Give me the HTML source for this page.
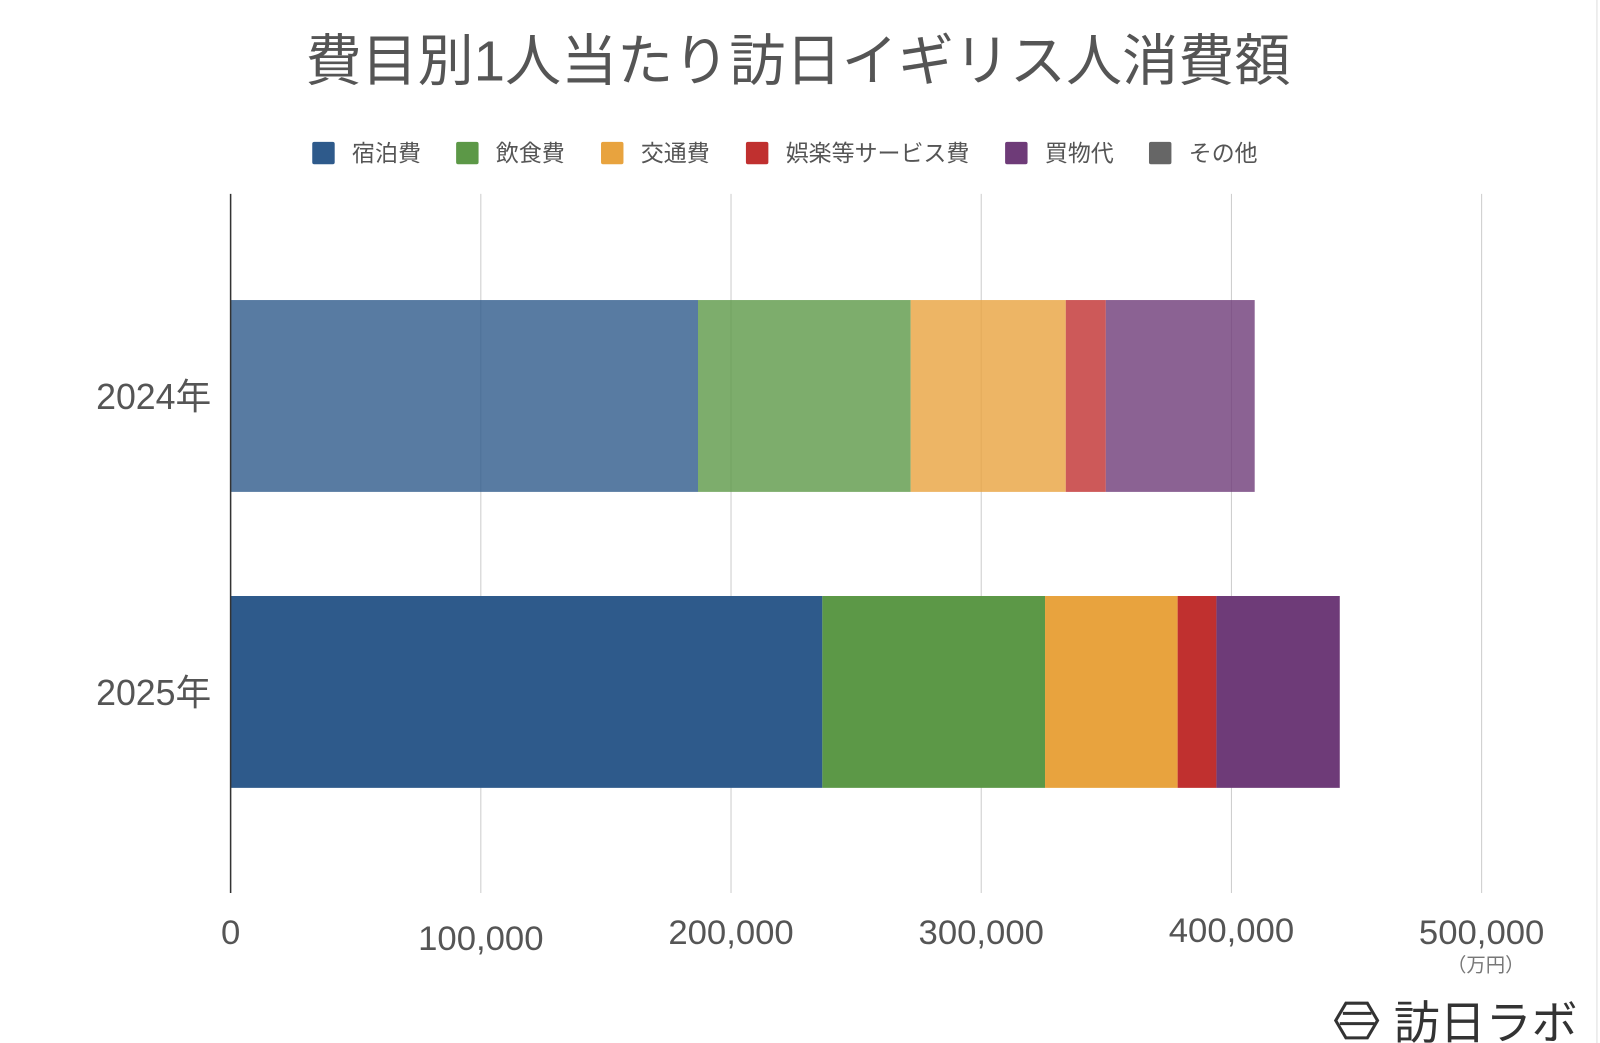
<!DOCTYPE html>
<html><head><meta charset="utf-8"><style>
body{margin:0;background:#fff;width:1600px;height:1043px;overflow:hidden;font-family:"Liberation Sans","Noto Sans CJK JP",sans-serif}
</style></head><body>
<svg width="1600" height="1043" viewBox="0 0 1568 1022" preserveAspectRatio="none" id="svg" style="position:absolute;left:0;top:0" font-family="Liberation Sans, Noto Sans CJK JP, sans-serif">
<text x="782" y="79" text-anchor="middle" font-size="55" fill="#555">費目別1人当たり訪日イギリス人消費額</text>
<g id="legend"></g>
<g id="grid"></g>
<g id="bars"></g>
<line x1="226" y1="190" x2="226" y2="875" stroke="#333" stroke-width="1.5"/>
<g id="ylabels"></g>
<g id="xlabels"></g>
<text x="1456" y="952" text-anchor="middle" font-size="19" fill="#777">（万円）</text>
<line x1="1565" y1="0" x2="1565" y2="1022" stroke="#ddd" stroke-width="1"/>
<g>
<polygon points="1309,1000 1319,983 1340,983 1350,1000 1340,1017 1319,1017" fill="none" stroke="#333" stroke-width="3"/>
<line x1="1316" y1="993" x2="1344" y2="993" stroke="#333" stroke-width="3"/>
<line x1="1313" y1="1003" x2="1347" y2="1003" stroke="#333" stroke-width="3"/>
<text x="1366" y="1018" font-size="45" fill="#333">訪日ラボ</text>
</g>
</svg>
<script>
const categories=["2024年","2025年"];
const seriesNames=["宿泊費","飲食費","交通費","娯楽等サービス費","買物代","その他"];
const seriesColors=["#2e5a8b","#5c9847","#e8a33e","#c0302f","#6e3b78","#666666"];
const lodging=[186800,236500];
const food=[85000,89000];
const transport=[62000,53000];
const entertainment=[16000,15500];
const shopping=[59500,49300];
const other=[0,0];
const xTicks=[0,100000,200000,300000,400000,500000];
const xTickLabels=["0","100,000","200,000","300,000","400,000","500,000"];
const series=[lodging,food,transport,entertainment,shopping,other];
const ns="http://www.w3.org/2000/svg";
const X0=226,PX=245.2/100000;
const xs=v=>X0+v*PX;
const rowC=[388,678],barH=188;
function mk(tag,attrs,parent){const e=document.createElementNS(ns,tag);for(const k in attrs)e.setAttribute(k,attrs[k]);parent.appendChild(e);return e;}
const grid=document.getElementById('grid'),xl=document.getElementById('xlabels');
const tickDy=[0,6,0,0,-2,0];
xTicks.forEach((t,i)=>{
 if(i>0){const l=mk('line',{x1:xs(t),x2:xs(t),y1:190,y2:875,stroke:'#ccc','stroke-width':1},grid);
 
 }
 const tx=mk('text',{x:xs(t),y:925+tickDy[i],'text-anchor':'middle','font-size':34,fill:'#555'},xl);
 tx.textContent=xTickLabels[i];
 
 
});
const bars=document.getElementById('bars'),yl=document.getElementById('ylabels');
categories.forEach((c,ci)=>{
 let acc=0;
 series.forEach((s,si)=>{
  const v=s[ci];if(v<=0)return;
  const r=mk('rect',{x:xs(acc),y:rowC[ci]-barH/2,width:v*PX,height:barH,fill:seriesColors[si],opacity:ci===0?0.8:1},bars);
  
  
  acc+=v;
 });
 const t=mk('text',{x:207,y:rowC[ci]+13,'text-anchor':'end','font-size':35,fill:'#555'},yl);
 t.textContent=c;
 
 
});
const lg=document.getElementById('legend');
const lx=[306,447,589,731,985,1126];
seriesNames.forEach((n,i)=>{
 const r=mk('rect',{x:lx[i],y:139,width:22,height:22,rx:2,fill:seriesColors[i]},lg);
 
 
 const t=mk('text',{x:lx[i]+39,y:158,'font-size':22.5,fill:'#555'},lg);
 t.textContent=n;
 
 
});
</script>
</body></html>
